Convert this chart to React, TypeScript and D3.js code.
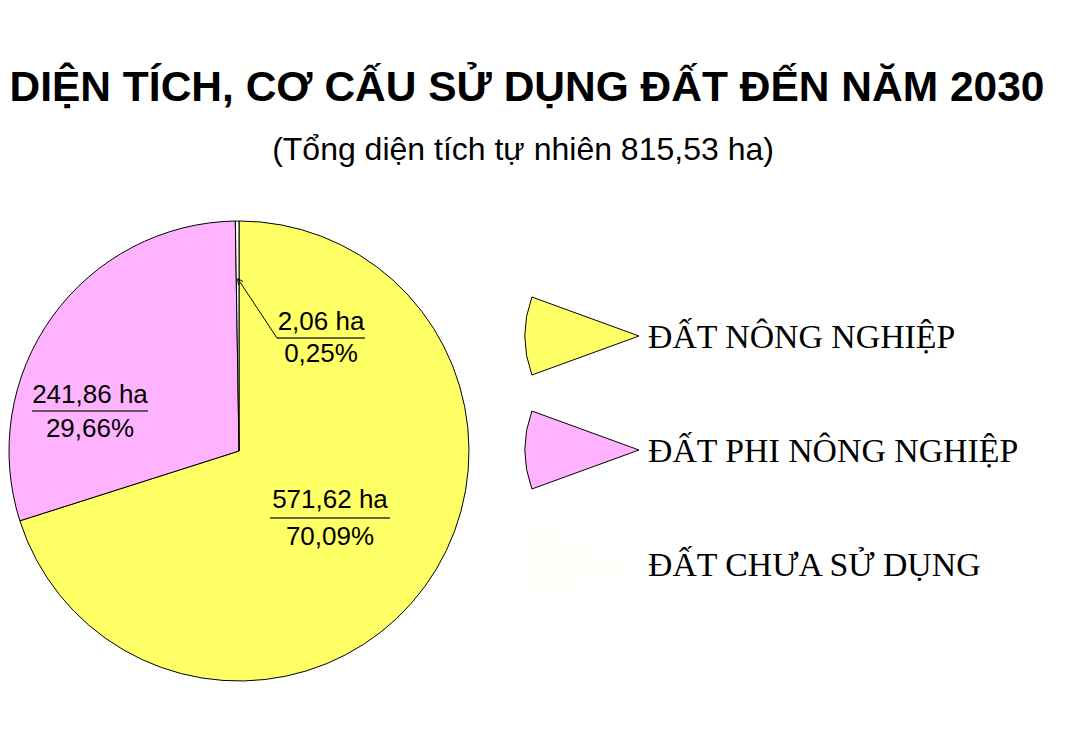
import React from "react";
import * as d3 from "d3";

const categories = ["ĐẤT NÔNG NGHIỆP", "ĐẤT PHI NÔNG NGHIỆP", "ĐẤT CHƯA SỬ DỤNG"];
const areas = [571.62, 241.86, 2.06];
const areaLabels = ["571,62 ha", "241,86 ha", "2,06 ha"];
const percentLabels = ["70,09%", "29,66%", "0,25%"];
const colors = ["#ffff66", "#ffb3ff", "#ffffff"];
const title = "DIỆN TÍCH, CƠ CẤU SỬ DỤNG ĐẤT ĐẾN NĂM 2030";
const subtitle = "(Tổng diện tích tự nhiên 815,53 ha)";

export default function App() {
  const W = 1081, H = 736;
  const cx = 239, cy = 451, r = 230;
  const pie = d3.pie<number>().sort(null).value((d) => d).startAngle(0).endAngle(2 * Math.PI);
  const arcs = pie(areas);
  const arcGen = d3.arc<d3.PieArcDatum<number>>().innerRadius(0).outerRadius(r);

  const labelPos = [
    { x: 330, y: 508, lineY: 518, half: 60, pctY: 545 },
    { x: 90, y: 403, lineY: 411, half: 58, pctY: 437 },
    { x: 321, y: 330, lineY: 338, half: 44, pctY: 362 },
  ];

  const wedgeR = 114;
  const wedgeHalf = (20 * Math.PI) / 180;
  const wedgeArc = d3
    .arc()
    .innerRadius(0)
    .outerRadius(wedgeR)
    .startAngle(-Math.PI / 2 - wedgeHalf)
    .endAngle(-Math.PI / 2 + wedgeHalf);
  const legendY = d3.scalePoint<string>().domain(categories).range([336, 564]);
  const tipX = 639;

  const small = arcs[2];
  const midA = (small.startAngle + small.endAngle) / 2;
  const pr = r * 0.75;
  const px = cx + Math.sin(midA) * pr;
  const py = cy - Math.cos(midA) * pr;

  return (
    <svg width={W} height={H} style={{ display: "block", position: "absolute", left: 0, top: 0 }}>
      <rect width={W} height={H} fill="#fff" />
      <text x={527} y={101} textAnchor="middle" fontFamily="Liberation Sans, Arial, sans-serif" fontWeight="bold" fontSize={42.5} fill="#000">
        {title}
      </text>
      <text x={523} y={160} textAnchor="middle" fontFamily="Liberation Sans, Arial, sans-serif" fontSize={32} fill="#000">
        {subtitle}
      </text>
      <g transform={`translate(${cx},${cy})`}>
        {arcs.map((a, i) => (
          <path key={i} d={arcGen(a) || ""} fill={colors[i]} stroke="#000" strokeWidth={1} />
        ))}
      </g>
      {arcs.map((a, i) => {
        const lp = labelPos[i];
        return (
          <g key={i} fontFamily="Liberation Sans, Arial, sans-serif" fontSize={26} fill="#000">
            <text x={lp.x} y={lp.y} textAnchor="middle">{areaLabels[i]}</text>
            <line x1={lp.x - lp.half} x2={lp.x + lp.half} y1={lp.lineY} y2={lp.lineY} stroke="#333" strokeWidth={1.3} />
            <text x={lp.x} y={lp.pctY} textAnchor="middle">{percentLabels[i]}</text>
          </g>
        );
      })}
      <defs>
        <marker id="arrow" viewBox="0 0 10 10" refX={10} refY={5} markerWidth={6} markerHeight={6} orient="auto">
          <path d="M0,0 L10,5 L0,10" fill="none" stroke="#000" strokeWidth={1.5} />
        </marker>
      </defs>
      <line
        x1={labelPos[2].x - labelPos[2].half}
        y1={labelPos[2].lineY}
        x2={px}
        y2={py}
        stroke="#000"
        strokeWidth={1}
        markerEnd="url(#arrow)"
      />
      {categories.map((c, i) => {
        const y = legendY(c) as number;
        return (
          <g key={c}>
            <path
              d={wedgeArc(null as any) || ""}
              transform={`translate(${tipX},${y})`}
              fill={i === 2 ? "#fffffb" : colors[i]}
              stroke={i === 2 ? "none" : "#000"}
              strokeWidth={1}
            />
            <text x={648} y={y + 12} fontFamily="Liberation Serif, Times New Roman, serif" fontSize={33.8} fill="#000">
              {c}
            </text>
          </g>
        );
      })}
    </svg>
  );
}
